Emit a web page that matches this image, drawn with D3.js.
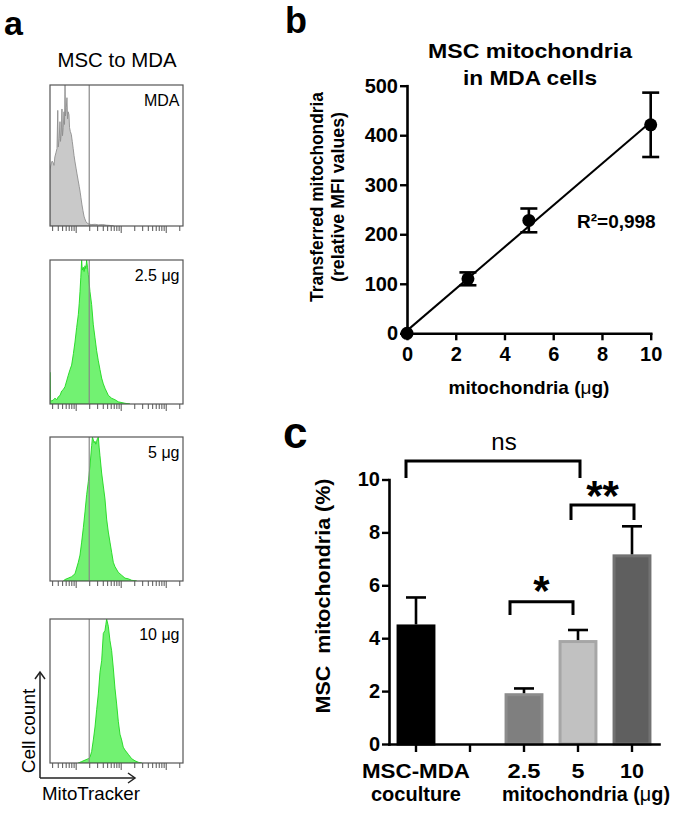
<!DOCTYPE html>
<html><head><meta charset="utf-8">
<script src="https://cdn.jsdelivr.net/npm/d3@7"></script>
<style>
body{margin:0;background:#fff}
svg{display:block}
</style></head><body>
<svg id="fig" width="683" height="815"></svg>
<script>
// ================= DATA =================
// Panel a: flow cytometry histograms, [MitoTracker intensity, relative cell count %]
const histMDA = [[2.69,0],[2.69,40],[2.85,44],[3.0,46],[3.15,45],[3.3,43],[3.45,49],[3.65,52],[3.85,55],[4.0,82],[4.1,56],[4.3,62],[4.48,74],[4.6,60],[4.8,66],[4.96,83],[5.1,64],[5.3,70],[5.5,81],[5.65,72],[5.8,100],[5.95,78],[6.2,84],[6.4,91],[6.6,76],[6.8,81],[7.1,79],[7.3,70],[7.6,67],[8.0,65],[8.4,60],[8.8,55],[9.2,50],[9.6,46],[10.2,41],[10.7,37],[11.4,32],[12.0,28],[12.6,24],[13.1,20],[13.8,15],[14.5,11],[15.3,7],[16.0,5],[17.0,3],[18.0,2],[19.5,1.5],[22,1],[27,1.2],[32,0.8],[40,1],[48,0.6],[58,0.4],[70,0]];
const hist25 = [[2.69,0],[2.69,22],[2.75,3],[2.93,2],[3.2,3],[3.47,4],[3.8,3],[4.11,5],[4.5,6],[4.88,9],[5.3,10],[5.78,12],[6.3,16],[6.85,20],[7.5,24],[8.13,27],[8.9,35],[9.65,43],[10.5,53],[11.44,62],[12.0,70],[12.47,78],[13.0,88],[13.57,100],[14.0,93],[14.78,95],[15.4,92],[16.1,96],[16.8,94],[17.54,100],[18.3,95],[19.09,90],[20.79,78],[22.64,69],[24.65,55],[26.85,46],[29.24,37],[31.84,30],[34.67,24],[37.76,18],[41.12,14],[44.77,11],[53.09,6],[62.95,4],[74.6,3],[88.5,1.5],[124.5,0.5],[160,0]];
const hist5 = [[5.31,0],[5.78,1],[6.85,2],[8.13,3],[9.65,5],[10.5,9],[11.44,13],[12.47,18],[13.57,27],[14.78,37],[16.1,48],[17.54,60],[19.09,69],[20.79,80],[22.64,94],[23.6,100],[24.65,98],[25.7,96],[26.85,97],[28,95],[29.24,97],[30.5,99],[31.84,100],[33.2,93],[34.67,87],[37.76,75],[41.12,66],[44.77,57],[48.75,43],[53.09,34],[57.81,27],[62.95,20],[68.5,13],[74.6,10],[88.5,6],[105,4],[124.5,2],[147.8,1.5],[175.4,0.5],[226.5,0]];
const hist10 = [[11.44,0],[13.57,1],[16.1,2],[19.09,3],[20.79,4],[22.64,8],[24.65,16],[26.85,25],[29.24,37],[31.84,48],[34.67,63],[37.76,71],[41.12,90],[44.77,92],[46.7,96],[48.75,100],[53.09,95],[57.81,85],[62.95,78],[68.5,66],[74.6,52],[81.3,41],[88.5,29],[96.4,20],[105,16],[114,11],[124.5,9],[147.8,6],[175.4,3],[208,1.5],[246.7,0.5],[292.6,0]];
const histLabels = ["MDA", "2.5 \u03bcg", "5 \u03bcg", "10 \u03bcg"];
const histGate = 20;
const histDomain = [2.69, 2420];
const histTicks = [3,4,5,6,7,8,9,10,20,30,40,50,60,70,80,90,100,200,300,400,500,600,700,800,900,1000,2000];
const histMajor = [10, 100, 1000];

// Panel b: transferred mitochondria (relative MFI) vs dose
const doseB = [0, 2.5, 5, 10];
const mfiB = [0, 110, 228, 421];
const mfiErrB = [0, 13, 24, 65];
const xTicksB = [0, 2, 4, 6, 8, 10];
const yTicksB = [0, 100, 200, 300, 400, 500];
const r2Text = "R\u00b2=0,998";

// Panel c: MSC mitochondria (%)
const catsC = ["MSC-MDA", "", "2.5", "5", "10"];
const valsC = [4.52, null, 1.92, 3.93, 7.17];
const errC = [1.02, null, 0.18, 0.38, 1.06];
const yTicksC = [0, 2, 4, 6, 8, 10];
const sigC = [{a: 0, b: 3, label: "ns"}, {a: 2, b: 3, label: "*"}, {a: 3, b: 4, label: "**"}];

// ================= STYLE / LAYOUT =================
const FONT = '"Liberation Sans", Arial, Helvetica, sans-serif';
const svg = d3.select("#fig");

function addText(parent, str, x, y, o = {}) {
  const t = parent.append("text")
    .attr("font-family", FONT)
    .attr("font-size", o.size || 16)
    .attr("font-weight", o.bold ? "bold" : "normal")
    .attr("text-anchor", o.anchor || "start")
    .attr("fill", o.fill || "#000");
  if (o.rotate) t.attr("transform", `translate(${x},${y}) rotate(${o.rotate})`);
  else t.attr("x", x).attr("y", y);
  if (o.length) t.attr("textLength", o.length).attr("lengthAdjust", "spacingAndGlyphs");
  if (o.parts) {
    o.parts.forEach(p => t.append("tspan").attr("font-weight", p[1] ? "bold" : "normal").text(p[0]));
  } else t.text(str);
  return t;
}

// ---------- Panel a ----------
const gA = svg.append("g");
addText(gA, "a", 4, 35, {size: 34, bold: true});
addText(gA, "MSC to MDA", 117, 67, {size: 20, anchor: "middle", length: 119});

const boxTops = [85, 260, 437, 619];
const boxBottoms = [226, 404, 581, 763];
const AX0 = 50, AX1 = 183;
const xA = d3.scaleLog().domain(histDomain).range([AX0, AX1]);
const hists = [histMDA, hist25, hist5, hist10];

hists.forEach((h, i) => {
  const yA = d3.scaleLinear().domain([0, 100]).range([boxBottoms[i], boxTops[i]]);
  const g = gA.append("g");
  const clipId = "clipA" + i;
  g.append("clipPath").attr("id", clipId).append("rect")
    .attr("x", AX0).attr("y", boxTops[i]).attr("width", AX1 - AX0).attr("height", boxBottoms[i] - boxTops[i]);
  const area = d3.area().x(d => xA(d[0])).y0(yA(0)).y1(d => yA(d[1]));
  g.append("path").datum(h).attr("d", area)
    .attr("clip-path", `url(#${clipId})`)
    .attr("fill", i === 0 ? "#c9c9c9" : "#72f272")
    .attr("stroke", i === 0 ? "#8f8f8f" : "#1fd81f")
    .attr("stroke-width", 0.9);
  g.append("line")
    .attr("x1", xA(histGate)).attr("x2", xA(histGate))
    .attr("y1", boxTops[i]).attr("y2", boxBottoms[i])
    .attr("stroke", "#888").attr("stroke-width", 1.2);
  g.append("rect")
    .attr("x", AX0).attr("y", boxTops[i]).attr("width", AX1 - AX0).attr("height", boxBottoms[i] - boxTops[i])
    .attr("fill", "none").attr("stroke", "#555").attr("stroke-width", 1.2);
  const ax = d3.axisBottom(xA).tickValues(histTicks).tickFormat("").tickSizeOuter(0).tickSize(5);
  g.append("g").attr("transform", `translate(0,${boxBottoms[i]})`).call(ax)
    .call(s => {
      s.select(".domain").remove();
      s.selectAll(".tick line").attr("stroke", "#555").attr("stroke-width", 1)
        .attr("y2", d => histMajor.includes(d) ? 7 : 5);
    });
  addText(g, histLabels[i], 179.5, boxTops[i] + 21, {size: 16, anchor: "end"});
});

// axes arrows
const arr = gA.append("g").attr("stroke", "#222").attr("stroke-width", 1.5).attr("fill", "none");
arr.append("path").attr("d", "M40,778 V672");
arr.append("path").attr("d", "M35,679 L40,672 L45,679");
arr.append("path").attr("d", "M40,778 H135");
arr.append("path").attr("d", "M128,773 L135,778 L128,783");
addText(gA, "Cell count", 35, 731, {size: 19, anchor: "middle", rotate: -90});
addText(gA, "MitoTracker", 42, 800, {size: 19, length: 98});

// ---------- Panel b ----------
const gB = svg.append("g");
addText(gB, "b", 285, 33, {size: 36, bold: true});
addText(gB, "MSC mitochondria", 530, 58, {size: 21, bold: true, anchor: "middle", length: 204});
addText(gB, "in MDA cells", 530, 85, {size: 21, bold: true, anchor: "middle", length: 134});
addText(gB, "Transferred mitochondria", 323, 197, {size: 18.5, bold: true, anchor: "middle", rotate: -90, length: 210});
addText(gB, "(relative MFI values)", 344, 197, {size: 18.5, bold: true, anchor: "middle", rotate: -90, length: 170});

const xB = d3.scaleLinear().domain([0, 10]).range([407, 650.7]);
const yB = d3.scaleLinear().domain([0, 500]).range([333.3, 85.7]);

function styleAxis(s, size) {
  s.attr("font-family", FONT).attr("font-size", size).attr("font-weight", "bold");
  s.select(".domain").attr("stroke", "#000").attr("stroke-width", 2.6).attr("stroke-linecap", "square");
  s.selectAll(".tick line").attr("stroke", "#000").attr("stroke-width", 2.4);
  s.selectAll(".tick text").attr("fill", "#000");
}

gB.append("g").attr("transform", `translate(0,${yB(0)})`)
  .call(d3.axisBottom(xB).tickValues(xTicksB).tickSize(7).tickSizeOuter(0).tickPadding(6.8).tickFormat(d3.format("d")))
  .call(s => styleAxis(s, 20));
gB.append("g").attr("transform", `translate(${xB(0)},0)`)
  .call(d3.axisLeft(yB).tickValues(yTicksB).tickSize(7).tickSizeOuter(0).tickPadding(2).tickFormat(d3.format("d")))
  .call(s => styleAxis(s, 20));

// regression line (least squares from data)
const mx = d3.mean(doseB), my = d3.mean(mfiB);
const slope = d3.sum(doseB, (x, i) => (x - mx) * (mfiB[i] - my)) / d3.sum(doseB, x => (x - mx) ** 2);
const icpt = my - slope * mx;
gB.append("line")
  .attr("x1", xB(0)).attr("y1", yB(icpt))
  .attr("x2", xB(10)).attr("y2", yB(icpt + slope * 10))
  .attr("stroke", "#000").attr("stroke-width", 2);

// error bars
const eb = gB.append("g").attr("stroke", "#000").attr("stroke-width", 2.6);
doseB.forEach((d, i) => {
  if (!mfiErrB[i]) return;
  const x = xB(d), lo = yB(mfiB[i] - mfiErrB[i]), hi = yB(mfiB[i] + mfiErrB[i]);
  eb.append("line").attr("x1", x).attr("x2", x).attr("y1", lo).attr("y2", hi);
  eb.append("line").attr("x1", x - 8.5).attr("x2", x + 8.5).attr("y1", lo).attr("y2", lo);
  eb.append("line").attr("x1", x - 8.5).attr("x2", x + 8.5).attr("y1", hi).attr("y2", hi);
});
gB.selectAll("circle.pt").data(doseB).join("circle").attr("class", "pt")
  .attr("cx", d => xB(d)).attr("cy", (d, i) => yB(mfiB[i])).attr("r", 6.5).attr("fill", "#000");

addText(gB, r2Text, 577, 228, {size: 19, bold: true});
addText(gB, "", 529, 394, {size: 19, bold: true, anchor: "middle",
  parts: [["mitochondria (", true], ["\u03bc", false], ["g)", true]]});

// ---------- Panel c ----------
const gC = svg.append("g");
addText(gC, "c", 283, 448, {size: 44, bold: true});
const xC = d3.scaleBand().domain(d3.range(catsC.length)).range([389, 659]).paddingInner(0.28).paddingOuter(0.14);
const yC = d3.scaleLinear().domain([0, 10]).range([744, 479.5]);
const barFill = ["#000000", null, "#7f7f7f", "#c1c1c1", "#5f5f5f"];
const barEdge = ["#000000", null, "#8c8c8c", "#a6a6a6", "#727272"];

const bw = xC.bandwidth();
catsC.forEach((c, i) => {
  if (valsC[i] == null) return;
  gC.append("rect")
    .attr("x", xC(i) + 1.5).attr("y", yC(valsC[i]) + 1.5)
    .attr("width", bw - 3).attr("height", yC(0) - yC(valsC[i]) - 1.5)
    .attr("fill", barFill[i]).attr("stroke", barEdge[i]).attr("stroke-width", 3);
});
const ebc = gC.append("g").attr("stroke", "#000").attr("stroke-width", 2.6);
catsC.forEach((c, i) => {
  if (valsC[i] == null) return;
  const x = xC(i) + bw / 2, y0 = yC(valsC[i]), y1 = yC(valsC[i] + errC[i]);
  ebc.append("line").attr("x1", x).attr("x2", x).attr("y1", y0).attr("y2", y1);
  ebc.append("line").attr("x1", x - 10).attr("x2", x + 10).attr("y1", y1).attr("y2", y1);
});

const tickLen = {"MSC-MDA": 108, "2.5": 33, "5": 13, "10": 24};
gC.append("g").attr("transform", `translate(0,${yC(0)})`)
  .call(d3.axisBottom(xC).tickSize(8).tickSizeOuter(0).tickPadding(12.3).tickFormat(i => catsC[i]))
  .call(s => styleAxis(s, 19.5))
  .call(s => s.selectAll(".tick text")
    .filter((i) => tickLen[catsC[i]])
    .attr("textLength", i => tickLen[catsC[i]]).attr("lengthAdjust", "spacingAndGlyphs"));
gC.append("g").attr("transform", `translate(389,0)`)
  .call(d3.axisLeft(yC).tickValues(yTicksC).tickSize(7).tickSizeOuter(0).tickPadding(2).tickFormat(d3.format("d")))
  .call(s => styleAxis(s, 20));

addText(gC, "coculture", xC(0) + bw / 2, 801, {size: 19.5, bold: true, anchor: "middle", length: 90});
addText(gC, "", 586, 801, {size: 19.5, bold: true, anchor: "middle", length: 168,
  parts: [["mitochondria (", true], ["\u03bc", false], ["g)", true]]});
addText(gC, "MSC\u00a0 mitochondria (%)", 330, 596, {size: 21, bold: true, anchor: "middle", rotate: -90, length: 235});

// significance brackets (layout: top level, leg end level in axis units, leg offsets px)
const bracketLayout = [
  {top: 10.7, leg: 10.06, dx: [-10, 2], lx: 11, ly: -11, size: 24, bold: false},
  {top: 5.38, leg: 4.88, dx: [-14, -5], lx: 0, ly: 3, size: 42, bold: true},
  {top: 9.04, leg: 8.47, dx: [-7, 2], lx: 0, ly: 5, size: 42, bold: true}
];
const br = gC.append("g").attr("stroke", "#000").attr("stroke-width", 3).attr("fill", "none").attr("stroke-linejoin", "miter");
sigC.forEach((s, k) => {
  const L = bracketLayout[k];
  const xa = xC(s.a) + bw / 2 + L.dx[0], xb = xC(s.b) + bw / 2 + L.dx[1];
  br.append("path").attr("d", `M${xa},${yC(L.leg)} V${yC(L.top)} H${xb} V${yC(L.leg)}`);
  addText(gC, s.label, (xa + xb) / 2 + L.lx, yC(L.top) + L.ly, {size: L.size, bold: L.bold, anchor: "middle"});
});
</script>
</body></html>
